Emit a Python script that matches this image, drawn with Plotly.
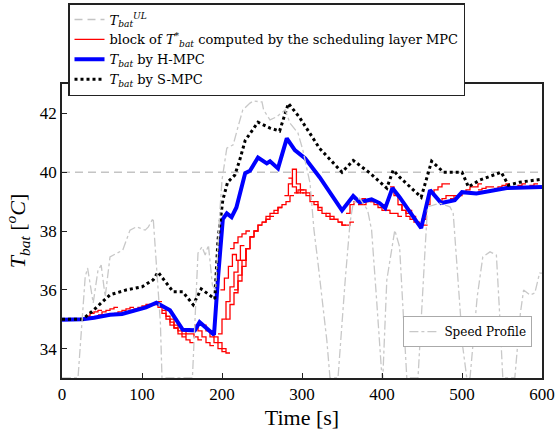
import plotly.graph_objects as go

# ---------------- data ----------------
# H-MPC battery temperature
t_h = [0, 26, 40, 50, 60, 75, 90, 105, 118, 122, 135, 151, 166, 172, 180, 190, 195, 201, 206, 212, 218,
       225, 229, 235, 245, 256, 260, 270, 281, 291, 304, 322, 350, 364, 372, 387, 397, 404, 413, 422,
       449, 460, 474, 491, 500, 518, 556, 600]
T_h = [34.98, 35.0, 35.05, 35.1, 35.15, 35.18, 35.28, 35.4, 35.56, 35.5, 35.3, 34.64, 34.62, 34.9, 34.7,
       34.47, 36.4, 38.4, 38.6, 38.47, 38.8, 39.5, 39.97, 40.05, 40.5, 40.3, 40.37, 40.13, 41.15, 40.75,
       40.47, 39.83, 38.7, 39.19, 38.98, 39.08, 38.95, 38.78, 39.46, 39.15, 38.1, 39.39, 38.95, 39.05,
       39.32, 39.28, 39.46, 39.5]

# S-MPC battery temperature
t_s = [0, 26, 39, 60, 81, 100, 114, 120, 139, 151, 164, 174, 191, 195, 201, 207, 216, 222, 229, 245, 260,
       272, 283, 297, 322, 350, 364, 385, 406, 414, 422, 449, 462, 477, 500, 508, 522, 549, 558, 572, 600]
T_s = [35.0, 35.0, 35.3, 35.83, 36.0, 36.1, 36.34, 36.6, 35.93, 35.93, 35.49, 36.03, 35.69, 37.7, 39.05,
       39.66, 39.9, 40.4, 41.08, 41.7, 41.5, 41.4, 42.34, 41.86, 40.81, 40.0, 40.4, 39.97, 39.46, 40.07,
       39.83, 39.15, 40.37, 40.0, 40.0, 39.5, 39.73, 40.0, 39.56, 39.66, 39.76]

# upper limit
t_ul = [0, 600]
T_ul = [40, 40]

# blocks of T*_bat from the scheduling layer MPC (start time, step values every 5 s)
block_dt = 5
block_start = [25, 45, 65, 85, 100, 115, 125, 135, 150, 165, 175, 185, 195, 198, 205, 210, 215, 225, 235,
               250, 265, 278, 283, 290, 300, 315, 330, 345, 355, 370, 385, 400, 410, 420, 432, 445, 460,
               470, 485, 500, 520, 540, 560, 580]
block_vals = [
    [35.0, 35.1, 35.2, 35.25, 35.3],
    [35.15, 35.25, 35.3, 35.35, 35.4],
    [35.2, 35.25, 35.3, 35.35, 35.4],
    [35.3, 35.35, 35.4, 35.45, 35.5],
    [35.4, 35.45, 35.5, 35.55, 35.6],
    [35.5, 35.4, 35.2, 35.0, 34.8, 34.7],
    [35.3, 35.1, 34.9, 34.7, 34.5, 34.4],
    [35.0, 34.8, 34.6, 34.5, 34.3, 34.2],
    [34.6, 34.5, 34.5, 34.4, 34.3],
    [34.8, 34.6, 34.4, 34.2, 34.1],
    [34.8, 34.6, 34.4, 34.2, 34.0, 33.9],
    [34.6, 34.4, 34.2, 34.0, 33.85],
    [34.5, 35.0, 35.6, 36.1, 36.6, 37.0],
    [36.0, 36.4, 36.8, 37.2, 37.0, 37.5],
    [35.0, 35.5, 35.9, 36.3, 36.8, 37.4],
    [37.4, 37.6, 37.8, 37.9, 38.0],
    [36.0, 36.5, 37.0, 37.4, 37.8],
    [37.0, 37.4, 37.8, 38.0, 38.2],
    [37.8, 38.0, 38.2, 38.3, 38.4, 38.5],
    [38.3, 38.5, 38.6, 38.7, 38.8],
    [38.6, 38.8, 38.9, 39.0, 39.2],
    [39.2, 39.6, 40.1, 39.6, 39.3],
    [39.8, 39.5, 39.3, 39.4],
    [39.3, 39.4, 39.4, 39.3, 39.2],
    [39.3, 39.2, 39.0, 38.9, 38.7],
    [39.0, 38.8, 38.6, 38.5, 38.4],
    [38.6, 38.5, 38.4, 38.3, 38.2],
    [38.3, 38.2, 38.2, 38.3],
    [38.6, 38.9, 39.0, 39.0, 39.1],
    [38.9, 38.9, 39.0, 39.0, 39.0],
    [39.0, 38.9, 38.8, 38.7, 38.7],
    [38.9, 38.7, 38.6, 38.6, 38.5],
    [39.5, 39.2, 38.9, 38.7, 38.6],
    [38.9, 38.7, 38.5, 38.4, 38.3],
    [38.7, 38.5, 38.3, 38.2, 38.2],
    [38.2, 38.4, 38.9, 39.3],
    [39.3, 39.4, 39.5, 39.6, 39.6],
    [39.0, 39.1, 39.2, 39.2],
    [39.1, 39.2, 39.2, 39.3],
    [39.3, 39.4, 39.5, 39.5, 39.6],
    [39.4, 39.45, 39.5, 39.5],
    [39.45, 39.5, 39.55, 39.6],
    [39.5, 39.5, 39.55, 39.6],
    [39.5, 39.55, 39.6],
]

# speed profile (0-100 scale on a hidden secondary axis)
t_v = [0, 20, 29, 32, 39, 45, 49, 54, 60, 70, 76, 85, 93, 104, 108, 114, 123, 125, 163, 170, 175, 179,
       183, 188, 192, 197, 200, 206, 214, 220, 226, 235, 239, 250, 252, 260, 268, 279, 285, 295, 301,
       310, 315, 320, 331, 335, 345, 354, 360, 364, 372, 382, 387, 393, 400, 401, 406, 416, 422, 431,
       445, 454, 457, 472, 485, 489, 495, 501, 506, 510, 519, 526, 535, 543, 547, 551, 566, 573, 577,
       585, 591, 597, 600]
v_v = [0, 0, 34.4, 37.4, 25.5, 36.7, 38.4, 27.6, 41.2, 42.5, 43.5, 50.3, 51.4, 50.3, 51.4, 54.4, 18.7, 0,
       0, 42.5, 44.6, 41.8, 45.2, 31.6, 29.9, 55.4, 67.3, 78.2, 79.3, 85.4, 91.2, 93.5, 94.2, 93.9, 91.2,
       87.8, 88.8, 91.2, 86.7, 83.3, 77.6, 66.3, 50.3, 39.1, 12.9, 0, 0, 33.3, 52.7, 59.5, 61.2, 57.1,
       50.3, 27.6, 0, 0, 33.3, 50.3, 44.6, 0, 0, 44.6, 58.2, 59.5, 58.2, 56.1, 33.3, 10.5, 0, 0, 27.6,
       41.2, 42.9, 41.8, 22.1, 0, 0, 22.1, 29.9, 28.2, 28.9, 35.7, 35.7]

# ---------------- build red block staircase ----------------
bx, by = [], []
for t0, vals in zip(block_start, block_vals):
    for i, v in enumerate(vals):
        bx.append(t0 + i * block_dt)
        by.append(v)
    bx.append(t0 + len(vals) * block_dt)
    by.append(vals[-1])
    bx.append(None)
    by.append(None)

FONT = "Liberation Serif"
LFONT = "DejaVu Serif"

fig = go.Figure()

fig.add_trace(go.Scatter(
    x=t_v, y=v_v, yaxis="y2", mode="lines", name="Speed Profile", legend="legend2",
    line=dict(color="#c8c8c8", width=1.3, dash="dashdot")))

fig.add_trace(go.Scatter(
    x=t_ul, y=T_ul, mode="lines", name="<i>T</i><sub><i>bat</i></sub><sup><i>UL</i></sup>",
    line=dict(color="#c4c4c4", width=1.5, dash="8px,5px")))

fig.add_trace(go.Scatter(
    x=bx, y=by, mode="lines", line_shape="hv", connectgaps=False,
    name="block of <i>T</i><sup>*</sup><sub><i>bat</i></sub> computed by the scheduling layer MPC",
    line=dict(color="#ff0000", width=1.3)))

fig.add_trace(go.Scatter(
    x=t_h, y=T_h, mode="lines", name="<i>T</i><sub><i>bat</i></sub> by H-MPC",
    line=dict(color="#0000ff", width=4)))

fig.add_trace(go.Scatter(
    x=t_s, y=T_s, mode="lines", name="<i>T</i><sub><i>bat</i></sub> by S-MPC",
    line=dict(color="#000000", width=3, dash="3px,3px")))

fig.update_layout(
    width=557, height=432,
    margin=dict(l=62, r=15, t=84, b=54, autoexpand=False),
    paper_bgcolor="white", plot_bgcolor="white",
    font=dict(family=FONT, color="black"),
    xaxis=dict(range=[0, 600], tickvals=[0, 100, 200, 300, 400, 500, 600],
               ticks="inside", ticklen=5, tickwidth=1.2, tickcolor="#222",
               showline=True, linecolor="#222", linewidth=1.5, mirror=True,
               showgrid=False, zeroline=False,
               tickfont=dict(size=17, family=FONT),
               title=dict(text="Time [s]", font=dict(size=22, family=FONT), standoff=6)),
    yaxis=dict(range=[33, 43], tickvals=[34, 36, 38, 40, 42],
               ticks="inside", ticklen=5, tickwidth=1.2, tickcolor="#222",
               showline=True, linecolor="#222", linewidth=1.5, mirror=True,
               showgrid=False, zeroline=False,
               tickfont=dict(size=17, family=FONT),
               title=dict(text="<i>T</i><sub><i>bat</i></sub> [<sup><i>o</i></sup><i>C</i>]",
                          font=dict(size=22, family=FONT), standoff=8)),
    yaxis2=dict(range=[0, 100], overlaying="y", visible=False),
    legend=dict(x=0.0125, y=1.2755, xanchor="left", yanchor="top",
                bgcolor="white", bordercolor="#222", borderwidth=1.5,
                font=dict(size=13, family=LFONT), itemwidth=30, tracegroupgap=0),
    legend2=dict(x=0.98, y=0.105, xanchor="right", yanchor="bottom",
                 bgcolor="white", bordercolor="#aaaaaa", borderwidth=1,
                 font=dict(size=12, family=LFONT), itemwidth=30),
)

fig.write_html("out.html")
